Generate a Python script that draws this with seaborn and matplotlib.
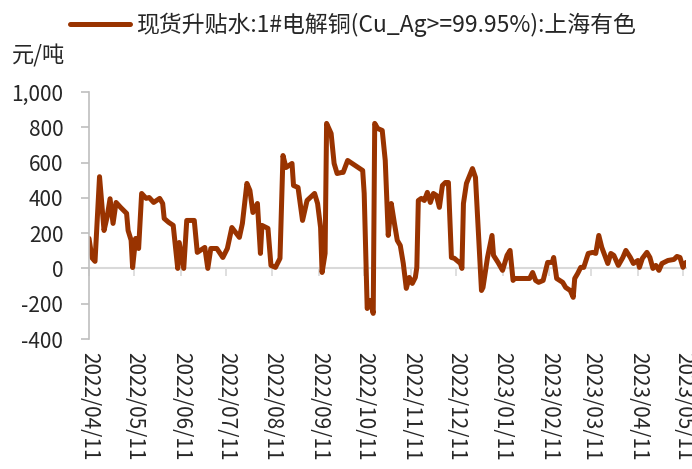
import numpy as np
import pandas as pd
import matplotlib
matplotlib.use('Agg')
import matplotlib.pyplot as plt
import matplotlib.dates as mdates
import matplotlib.ticker as mticker
import seaborn as sns

# values
dates = [
    '2022-04-11', '2022-04-13', '2022-04-15', '2022-04-18', '2022-04-21', '2022-04-23',
    '2022-04-25', '2022-04-27', '2022-04-29', '2022-05-02', '2022-05-06', '2022-05-07',
    '2022-05-09', '2022-05-10', '2022-05-12', '2022-05-14', '2022-05-16', '2022-05-19',
    '2022-05-21', '2022-05-24', '2022-05-28', '2022-05-30', '2022-05-31', '2022-06-03',
    '2022-06-06', '2022-06-09', '2022-06-10', '2022-06-13', '2022-06-15', '2022-06-20',
    '2022-06-22', '2022-06-27', '2022-06-29', '2022-07-01', '2022-07-05', '2022-07-09',
    '2022-07-12', '2022-07-15', '2022-07-20', '2022-07-22', '2022-07-25', '2022-07-27',
    '2022-07-29', '2022-08-01', '2022-08-03', '2022-08-04', '2022-08-08', '2022-08-10',
    '2022-08-13', '2022-08-16', '2022-08-18', '2022-08-20', '2022-08-24', '2022-08-25',
    '2022-08-28', '2022-08-31', '2022-09-03', '2022-09-08', '2022-09-10', '2022-09-12',
    '2022-09-13', '2022-09-15', '2022-09-16', '2022-09-19', '2022-09-21', '2022-09-23',
    '2022-09-26', '2022-09-27', '2022-09-30', '2022-10-10', '2022-10-11', '2022-10-13',
    '2022-10-15', '2022-10-17', '2022-10-18', '2022-10-20', '2022-10-23', '2022-10-25',
    '2022-10-27', '2022-10-29', '2022-10-31', '2022-11-02', '2022-11-04', '2022-11-06',
    '2022-11-08', '2022-11-10', '2022-11-12', '2022-11-14', '2022-11-15', '2022-11-16',
    '2022-11-18', '2022-11-20', '2022-11-22', '2022-11-24', '2022-11-26', '2022-11-28',
    '2022-11-30', '2022-12-02', '2022-12-04', '2022-12-06', '2022-12-08', '2022-12-10',
    '2022-12-14', '2022-12-15', '2022-12-16', '2022-12-18', '2022-12-22', '2022-12-24',
    '2022-12-28', '2022-12-29', '2023-01-01', '2023-01-04', '2023-01-05', '2023-01-08',
    '2023-01-11', '2023-01-14', '2023-01-16', '2023-01-18', '2023-01-19', '2023-01-29',
    '2023-01-31', '2023-02-02', '2023-02-04', '2023-02-07', '2023-02-10', '2023-02-13',
    '2023-02-14', '2023-02-16', '2023-02-20', '2023-02-22', '2023-02-25', '2023-02-27',
    '2023-02-28', '2023-03-02', '2023-03-04', '2023-03-06', '2023-03-09', '2023-03-12',
    '2023-03-14', '2023-03-16', '2023-03-18', '2023-03-22', '2023-03-24', '2023-03-26',
    '2023-03-29', '2023-04-01', '2023-04-03', '2023-04-06', '2023-04-08', '2023-04-11',
    '2023-04-12', '2023-04-14', '2023-04-17', '2023-04-19', '2023-04-21', '2023-04-23',
    '2023-04-25', '2023-04-27', '2023-05-01', '2023-05-05', '2023-05-07', '2023-05-09',
    '2023-05-11', '2023-05-13',
]
premium = [
    170, 60, 40, 520, 215, 290,
    395, 255, 374, 346, 312, 215,
    160, 5, 170, 113, 425, 397,
    402, 374, 397, 368, 283, 261,
    244, 0, 147, 0, 272, 272,
    91, 119, 0, 113, 113, 62,
    113, 232, 176, 255, 482, 442,
    317, 368, 85, 244, 227, 17,
    6, 57, 640, 572, 595, 470,
    459, 272, 385, 425, 368, 232,
    -23, 85, 822, 765, 595, 538,
    544, 544, 612, 555, 425, -227,
    -181, -255, 822, 793, 782, 612,
    187, 368, 261, 159, 130, 28,
    -113, -51, -85, -51, 6, 385,
    397, 385, 431, 374, 425, 414,
    346, 470, 487, 487, 62, 57,
    28, 0, 368, 482, 566, 516,
    -125, -108, 62, 187, 74, 34,
    -11, 74, 102, -68, -57, -57,
    -23, -68, -79, -68, 34, 34,
    62, -57, -79, -108, -125, -164,
    -57, -28, 6, 6, 85, 91,
    85, 187, 119, 28, 85, 74,
    17, 62, 102, 62, 28, 45,
    6, 57, 91, 62, 0, 17,
    -11, 28, 45, 51, 68, 62,
    6, 34,
]
series_name = '现货升贴水:1#电解铜(Cu_Ag>=99.95%):上海有色'
unit_label = '元/吨'

df = pd.DataFrame({'date': pd.to_datetime(dates), 'value': premium})

sns.set_style('white')
plt.rcParams['font.family'] = ['Noto Sans CJK SC', 'DejaVu Sans']

line_color = '#993300'
fig = plt.figure(figsize=(6.92, 4.69), dpi=100)
ax = fig.add_axes([89 / 692, 1 - 339 / 469, 597 / 692, 247 / 469])

sns.lineplot(data=df, x='date', y='value', ax=ax, color=line_color,
             linewidth=3.6, label=series_name, legend=False)

ax.set_ylim(-400, 1000)
ax.set_xlim(df['date'].iloc[0], df['date'].iloc[-1])
ax.yaxis.set_major_locator(mticker.MultipleLocator(200))
ax.yaxis.set_major_formatter(mticker.FuncFormatter(lambda v, p: f'{int(v):,}'))
ax.xaxis.set_major_locator(mdates.MonthLocator(bymonthday=11))
ax.xaxis.set_major_formatter(mdates.DateFormatter('%Y/%m/%d'))

for s in ['top', 'right', 'bottom']:
    ax.spines[s].set_visible(False)
ax.spines['left'].set_color('#BFBFBF')
ax.spines['left'].set_linewidth(1.2)
ax.tick_params(axis='y', direction='out', length=5.5, width=1.2, color='#BFBFBF',
               labelsize=15, pad=13, left=True)
ax.tick_params(axis='x', length=0, labelsize=15, pad=9, labelrotation=-90)
for lab in ax.get_xticklabels():
    lab.set_va('top')
    lab.set_ha('center')

# zero line with monthly tick marks
zero_ax = ax.secondary_xaxis(400 / 1400)
zero_ax.xaxis.set_major_locator(mdates.MonthLocator(bymonthday=11))
zero_ax.tick_params(axis='x', direction='out', length=5.5, width=1.2,
                    color='#D9D9D9', labelbottom=False, bottom=True)
zero_ax.spines['bottom'].set_color('#D9D9D9')
zero_ax.spines['bottom'].set_linewidth(1.5)
ax.set_xlabel('')
ax.set_ylabel('')

fig.text(12 / 692, 1 - 56 / 469, unit_label, fontsize=16, va='center', ha='left')
fig.legend(loc='center left', bbox_to_anchor=(70 / 692, 1 - 25 / 469),
           frameon=False, fontsize=16.5, handlelength=2.6, handletextpad=0.3,
           borderpad=0, borderaxespad=0)

fig.savefig('out.png', dpi=100)
